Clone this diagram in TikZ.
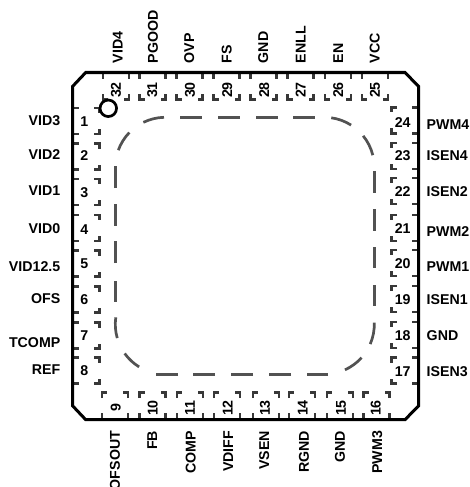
\documentclass[tikz,border=0pt]{standalone}
\usepackage{fontspec}
\setmainfont{Liberation Sans}
\tikzset{
	pinlabel/.style={
			font=\fontsize{14.2}{16}\selectfont\bfseries,
			inner sep=0pt,
			text=black
		},
	padline/.style={
			line width=2.7pt,
			black!68
		},
	pad/.pic={
			\draw[line width=2.6pt,black!78] (0,-13) -- (6.5,-13)
			(0,13) -- (6.5,13)
			(21.5,-13) -- (27,-13) -- (27,-8)
			(21.5,13) -- (27,13) -- (27,8);
		}
}

\begin{document}
\begin{tikzpicture}[x=1pt,y=-1pt]
	\useasboundingbox (0,0) rectangle (469,487);

	% Exposed pad outline
	\foreach \a/\b in {180/202,218/240,256/278,293/315}{
			\draw[padline] (\a,117.3) -- (\b,117.3);
		}
	\foreach \a/\b in {171/193,209/231,247/268,285/306}{
			\draw[padline] (374.3,\a) -- (374.3,\b);
		}
	\foreach \a/\b in {328/307,291/269,253/231,215/193,178/156}{
			\draw[padline] (\a,374.3) -- (\b,374.3);
		}
	\foreach \a/\b in {301.7/280.7,263/241,225.7/204,188/166}{
			\draw[padline] (115.3,\a) -- (115.3,\b);
		}

	% Outline corners
	\foreach \cx/\cy/\a/\b in {
			324.3/167.3/-82/-57.6,
			324.3/167.3/-39/-14,
			324.3/324.3/-2/23.3,
			324.3/324.3/41.8/65.6,
			165.3/324.3/121.6/144.3,
			165.3/324.3/164/188,
			165.3/167.3/200/224,
			165.3/167.3/244/268.5}{
			\draw[padline] (\cx,\cy) ++(\a:50) arc[start angle=\a,end angle=\b,radius=50];
		}

	% Left pins
	\foreach \num/\pady/\numy/\lab/\laby in {
			1/121/122/VID3/120.7,
			2/156.5/155.7/VID2/155,
			3/192/192.7/VID1/190.7,
			4/228/229.3/VID0/228.7,
			5/263.5/264/VID12.5/266.7,
			6/299.5/300/OFS/299,
			7/335.5/335.7/TCOMP/342.7,
			8/370.5/371/REF/369.3}{
			\pic at (72.5,\pady) {pad};
			\node[pinlabel] (num\num) at (84.3,\numy) {\num};
			\node[pinlabel,anchor=east] (lab\num) at (60.5,\laby) {\lab};
		}

	% Bottom pins
	\foreach \num/\padx/\numx/\lab/\labx in {
			9/115/115.7/OFSOUT/115,
			10/152.5/152.7/FB/152.3,
			11/190/190/COMP/190.7,
			12/227/227.7/VDIFF/228.3,
			13/266/265/VSEN/264.3,
			14/302/302.7/RGND/304,
			15/340/341/GND/340,
			16/376.5/375.7/PWM3/377.3}{
			\pic[rotate=90] at (\padx,419.7) {pad};
			\node[pinlabel,rotate=90] (num\num) at (\numx,408) {\num};
			\node[pinlabel,rotate=90,anchor=east] (lab\num) at (\labx,430.7) {\lab};
		}

	% Right pins
	\foreach \num/\pady/\numy/\lab/\laby in {
			17/370.6/371.7/ISEN3/371.7,
			18/335/336/GND/336,
			19/299/300/ISEN1/300,
			20/263/264/PWM1/266.7,
			21/228/228.3/PWM2/231.7,
			22/191/191.7/ISEN2/191.7,
			23/156/155.7/ISEN4/155.7,
			24/120.3/122.3/PWM4/124.3}{
			\pic[rotate=180] at (418.7,\pady) {pad};
			\node[pinlabel] (num\num) at (402.7,\numy) {\num};
			\node[pinlabel,anchor=west] (lab\num) at (426.5,\laby) {\lab};
		}

	% Top pins
	\foreach \num/\padx/\numx/\lab/\labx in {
			25/375/375/VCC/374.7,
			26/338/338.3/EN/338.3,
			27/300.5/300.7/ENLL/300.7,
			28/263.5/264.3/GND/263.3,
			29/226.5/227.3/FS/226.7,
			30/189.5/190/OVP/189.3,
			31/152.5/152.3/PGOOD/153,
			32/116/116/VID4/117.7}{
			\pic[rotate=-90] at (\padx,72.5) {pad};
			\node[pinlabel,rotate=90] (num\num) at (\numx,90) {\num};
			\node[pinlabel,rotate=90,anchor=west] (lab\num) at (\labx,63.3) {\lab};
		}

	% Package
	\draw[line width=3pt,line join=miter]
	(85.7,72.5) -- (405,72.5) -- (418.7,86.5) -- (418.7,405.7)
	-- (405,419.7) -- (85.7,419.7) -- (72.5,405.7) -- (72.5,86.5) -- cycle;

	% Pin 1 mark
	\node[draw,
		circle,
		fill=white,
		line width=2.7pt,
		inner sep=0pt,
		minimum size=16.5pt
	] (dot) at (108.3,108.3) {};
\end{tikzpicture}
\end{document}
